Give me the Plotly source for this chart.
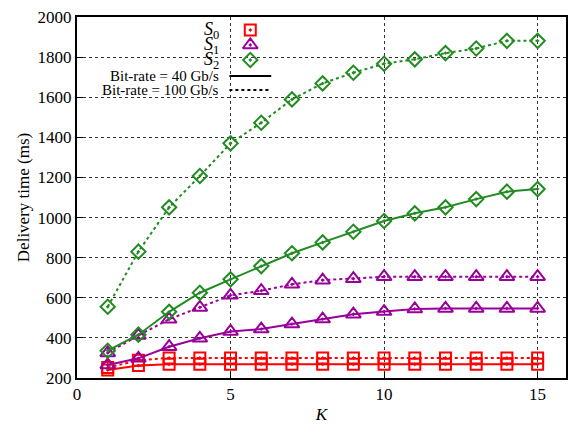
import plotly.graph_objects as go

K = list(range(1, 16))
s0_40 = [240, 262, 268, 268, 268, 268, 268, 268, 268, 268, 268, 268, 268, 268, 268]
s0_100 = [252, 288, 300, 300, 300, 300, 300, 300, 300, 300, 300, 300, 300, 300, 300]
s1_40 = [265, 298, 356, 398, 432, 444, 469, 494, 518, 531, 544, 547, 547, 547, 547]
s1_100 = [325, 412, 493, 552, 612, 635, 667, 688, 695, 705, 705, 705, 705, 705, 705]
s2_40 = [336, 416, 530, 625, 692, 758, 822, 876, 929, 983, 1021, 1051, 1092, 1129, 1142]
s2_100 = [555, 830, 1051, 1207, 1370, 1473, 1589, 1669, 1722, 1767, 1789, 1820, 1843, 1881, 1881]

series = [
    ("S0", "#ff0000", "square-open-dot", 11, s0_40, s0_100),
    ("S1", "#990099", "triangle-up-open-dot", 13, s1_40, s1_100),
    ("S2", "#228b22", "diamond-open-dot", 11, s2_40, s2_100),
]
legend_labels = ["<i>S</i><sub>0</sub>", "<i>S</i><sub>1</sub>", "<i>S</i><sub>2</sub>"]
line_labels = ["Bit-rate = 40 Gb/s", "Bit-rate = 100 Gb/s"]

FONT = "Liberation Serif, Times New Roman, serif"
fig = go.Figure()
for name, col, sym, sz, a, b in series:
    for vals, dash in ((a, "solid"), (b, "dot")):
        fig.add_trace(go.Scatter(
            x=K, y=vals, mode="lines+markers", showlegend=False,
            line=dict(color=col, width=2, dash=dash),
            marker=dict(symbol=sym, size=sz, color=col, line=dict(width=2, color=col)),
        ))

# custom legend on an overlay axis in pixel units
L, R, T, B = 77, 568, 17, 378
key_rows = [30, 45, 60, 76, 90]
for i, (name, col, sym, sz, a, b) in enumerate(series):
    fig.add_trace(go.Scatter(
        x=[251], y=[key_rows[i]], xaxis="x2", yaxis="y2", mode="markers", showlegend=False,
        marker=dict(symbol=sym, size=sz, color=col, line=dict(width=2, color=col)),
    ))
    fig.add_annotation(x=222, y=key_rows[i], xref="x2", yref="y2", text=legend_labels[i],
                       showarrow=False, xanchor="right", yanchor="middle",
                       font=dict(family=FONT, size=18, color="black"))
for j, dash in enumerate(["solid", "dot"]):
    yy = key_rows[3 + j]
    fig.add_trace(go.Scatter(
        x=[230, 272], y=[yy, yy], xaxis="x2", yaxis="y2", mode="lines", showlegend=False,
        line=dict(color="black", width=2, dash=dash),
    ))
    fig.add_annotation(x=222, y=yy, xref="x2", yref="y2", text=line_labels[j],
                       showarrow=False, xanchor="right", yanchor="middle",
                       font=dict(family=FONT, size=15, color="black"))

fig.update_layout(
    width=568, height=424,
    margin=dict(l=L, r=0, t=T, b=424 - B),
    paper_bgcolor="white", plot_bgcolor="white",
    font=dict(family=FONT, size=17, color="black"),
    xaxis=dict(range=[0, (R - L) / ((539.5 - 77) / 15)], tickvals=[0, 5, 10, 15],
               showgrid=True, gridcolor="#333333", griddash="dot", gridwidth=1,
               zeroline=False, showline=True, linecolor="black", linewidth=2, mirror=True,
               ticks="inside", ticklen=6, tickcolor="black",
               title=dict(text="<i>K</i>", font=dict(size=17), standoff=8)),
    yaxis=dict(range=[200, 2000], dtick=200,
               showgrid=True, gridcolor="#333333", griddash="dot", gridwidth=1,
               zeroline=False, showline=True, linecolor="black", linewidth=2, mirror=True,
               ticks="inside", ticklen=6, tickcolor="black",
               title=dict(text="Delivery time (ms)", font=dict(size=17), standoff=4)),
    xaxis2=dict(range=[L, R], overlaying="x", visible=False, fixedrange=True),
    yaxis2=dict(range=[B, T], overlaying="y", visible=False, fixedrange=True),
)
fig.write_html("out.html")
